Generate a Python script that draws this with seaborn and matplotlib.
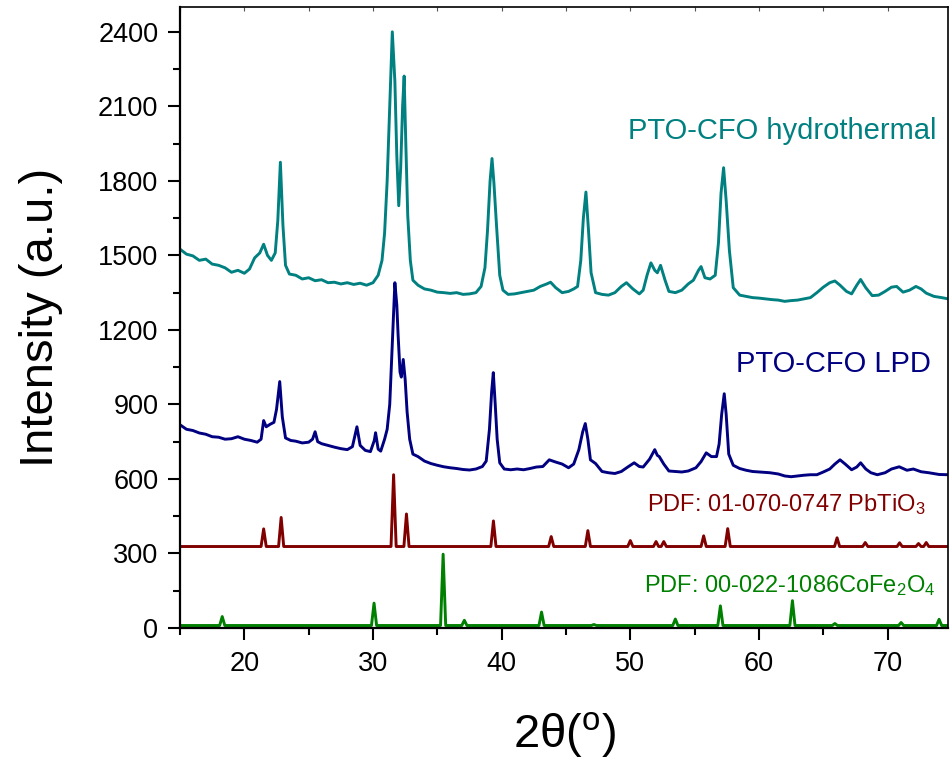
import pandas as pd
import matplotlib
matplotlib.use('Agg')
import matplotlib.pyplot as plt
from matplotlib.ticker import MultipleLocator
import seaborn as sns

hydro_2theta = [15.0, 15.5, 16.0, 16.5, 17.0, 17.5, 18.0, 18.5, 19.0, 19.5, 20.0, 20.4, 20.8, 21.2, 21.5,
                21.8, 22.1, 22.4, 22.6, 22.8, 23.0, 23.2, 23.5, 24.0, 24.5, 25.0, 25.5, 26.0, 26.5, 27.0,
                27.5, 28.0, 28.5, 29.0, 29.5, 30.0, 30.4, 30.7, 30.9, 31.1, 31.3, 31.5, 31.7, 31.85, 32.0,
                32.15, 32.3, 32.42, 32.55, 32.7, 32.9, 33.1, 33.5, 34.0, 34.5, 35.0, 35.5, 36.0, 36.5, 37.0,
                37.5, 38.0, 38.4, 38.7, 38.9, 39.1, 39.25, 39.4, 39.6, 39.85, 40.1, 40.5, 41.0, 41.5, 42.0,
                42.5, 43.0, 43.5, 43.8, 44.2, 44.7, 45.2, 45.6, 45.9, 46.15, 46.35, 46.55, 46.75, 46.95, 47.3,
                47.8, 48.3, 48.8, 49.3, 49.7, 50.2, 50.7, 51.0, 51.3, 51.6, 51.9, 52.1, 52.35, 52.7, 53.0,
                53.5, 54.0, 54.5, 54.9, 55.3, 55.5, 55.8, 56.2, 56.6, 56.85, 57.05, 57.25, 57.45, 57.7, 58.0,
                58.5, 59.0, 59.5, 60.0, 60.5, 61.0, 61.5, 62.0, 62.5, 63.0, 63.5, 64.0, 64.5, 65.0, 65.5,
                65.9, 66.3, 66.8, 67.2, 67.6, 67.9, 68.3, 68.8, 69.3, 69.8, 70.3, 70.7, 71.2, 71.7, 72.2,
                72.6, 73.0, 73.6, 74.2, 74.7]
hydro_counts = [1525, 1505, 1498, 1480, 1485, 1465, 1460, 1450, 1432, 1440, 1428, 1445, 1490, 1510, 1545,
                1500, 1480, 1510, 1640, 1875, 1620, 1460, 1425, 1420, 1405, 1410, 1398, 1402, 1390, 1392,
                1385, 1390, 1383, 1388, 1380, 1390, 1420, 1480, 1590, 1800, 2100, 2400, 2200, 1900, 1700,
                1850, 2100, 2222, 1950, 1660, 1480, 1400, 1380, 1365, 1360, 1352, 1350, 1347, 1350, 1343,
                1345, 1350, 1375, 1450, 1600, 1800, 1890, 1790, 1620, 1420, 1360, 1343, 1345, 1350, 1355,
                1360, 1375, 1385, 1392, 1370, 1350, 1355, 1365, 1375, 1480, 1650, 1755, 1600, 1430, 1350,
                1343, 1340, 1350, 1375, 1390, 1365, 1345, 1360, 1420, 1470, 1440, 1430, 1460, 1400, 1355,
                1350, 1360, 1385, 1400, 1440, 1455, 1410, 1405, 1420, 1550, 1750, 1853, 1720, 1520, 1370,
                1340, 1335, 1330, 1328, 1325, 1322, 1320, 1315, 1318, 1320, 1325, 1330, 1350, 1372, 1390,
                1397, 1380, 1355, 1345, 1380, 1403, 1370, 1338, 1340, 1355, 1372, 1375, 1352, 1360, 1375,
                1365, 1348, 1335, 1330, 1325]

lpd_2theta = [15.0, 15.5, 16.0, 16.5, 17.0, 17.5, 18.0, 18.5, 19.0, 19.5, 20.0, 20.5, 21.0, 21.3, 21.5,
              21.7, 22.0, 22.3, 22.5, 22.75, 22.95, 23.2, 23.6, 24.0, 24.5, 25.0, 25.3, 25.5, 25.7, 26.0,
              26.5, 27.0, 27.5, 28.0, 28.4, 28.75, 29.0, 29.4, 29.8, 30.1, 30.2, 30.4, 30.6, 30.9, 31.1,
              31.3, 31.5, 31.7, 31.85, 31.95, 32.1, 32.2, 32.35, 32.5, 32.65, 32.85, 33.1, 33.5, 34.0, 34.5,
              35.0, 35.5, 36.0, 36.5, 37.0, 37.5, 38.0, 38.5, 38.8, 39.05, 39.22, 39.35, 39.5, 39.65, 39.85,
              40.2, 40.7, 41.2, 41.7, 42.2, 42.7, 43.2, 43.7, 44.2, 44.7, 45.2, 45.6, 46.0, 46.3, 46.5,
              46.7, 46.9, 47.3, 47.8, 48.3, 48.8, 49.3, 49.8, 50.3, 50.7, 51.0, 51.5, 51.9, 52.1, 52.25,
              52.6, 53.0, 53.5, 54.0, 54.5, 55.1, 55.5, 55.9, 56.3, 56.7, 56.9, 57.1, 57.3, 57.45, 57.65,
              58.0, 58.5, 59.0, 59.5, 60.0, 60.85, 61.5, 62.0, 62.5, 63.0, 63.5, 64.0, 64.5, 65.0, 65.5,
              65.9, 66.3, 66.7, 67.2, 67.6, 67.9, 68.3, 68.7, 69.2, 69.8, 70.3, 70.9, 71.5, 72.0, 72.6,
              73.2, 74.0, 74.7]
lpd_counts = [818, 800, 795, 785, 780, 770, 768, 760, 762, 770, 760, 755, 748, 760, 835,
              810, 820, 828, 880, 992, 850, 765, 755, 752, 745, 748, 760, 790, 750, 742,
              735, 728, 722, 718, 730, 810, 735, 715, 710, 755, 786, 720, 712, 760, 800,
              900, 1150, 1390, 1300, 1180, 1030, 1010, 1081, 1000, 870, 760, 700, 690, 672, 662,
              655, 649, 645, 642, 638, 636, 640, 650, 672, 800, 950, 1028, 900, 760, 665,
              640, 637, 640, 637, 642, 648, 650, 677, 668, 660, 645, 660, 718, 790, 823,
              760, 677, 662, 630, 625, 622, 630, 648, 665, 650, 648, 680, 718, 695, 690,
              660, 632, 630, 628, 632, 645, 670, 705, 690, 690, 740, 860, 943, 860, 700,
              655, 642, 635, 630, 628, 625, 620, 612, 609, 612, 615, 617, 617, 628, 640,
              660, 677, 660, 637, 648, 665, 640, 625, 617, 625, 640, 649, 635, 640, 629,
              625, 618, 617]

# reference cards: baseline level, peak positions and peak tops
pto_base = 328
pto_peaks = [21.5, 22.86, 31.6, 32.6, 39.36, 43.85, 46.7, 50.0, 52.0, 52.6, 55.7, 57.57,
             66.07, 68.26, 70.93, 72.4, 73.0]
pto_tops = [399, 445, 617, 459, 431, 368, 392, 352, 348, 348, 371, 400,
            363, 344, 343, 340, 344]

cfo_base = 10
cfo_peaks = [18.28, 30.08, 35.45, 37.1, 43.1, 47.17, 53.5, 57.0, 62.6, 65.9, 71.05, 74.0]
cfo_tops = [46, 100, 297, 31, 64, 14, 36, 89, 110, 18, 22, 35]

c_hydro = '#008080'
c_lpd = '#000080'
c_pto = '#800000'
c_cfo = '#008000'


def card_frame(base, peaks, tops, w=0.2):
    xs, ys = [15.0], [base]
    for p, t in zip(peaks, tops):
        xs += [p - w, p, p + w]
        ys += [base, t, base]
    xs.append(74.7)
    ys.append(base)
    return pd.DataFrame({'two_theta': xs, 'counts': ys})


hydro_df = pd.DataFrame({'two_theta': hydro_2theta, 'counts': hydro_counts})
lpd_df = pd.DataFrame({'two_theta': lpd_2theta, 'counts': lpd_counts})
pto_df = card_frame(pto_base, pto_peaks, pto_tops)
cfo_df = card_frame(cfo_base, cfo_peaks, cfo_tops)

sns.set_theme(style='ticks')
plt.rcParams['font.family'] = ['Liberation Sans', 'DejaVu Sans']
plt.rcParams['mathtext.fontset'] = 'custom'
plt.rcParams['mathtext.rm'] = 'Liberation Sans'
plt.rcParams['mathtext.it'] = 'Liberation Sans:italic'
for key in ['text.color', 'axes.labelcolor', 'xtick.color', 'ytick.color', 'axes.edgecolor']:
    plt.rcParams[key] = 'black'

fig = plt.figure(figsize=(9.5, 7.6), dpi=100)
ax = fig.add_axes([0.1895, 0.1737, 0.8085, 0.8171])

for df, col in [(cfo_df, c_cfo), (pto_df, c_pto), (lpd_df, c_lpd), (hydro_df, c_hydro)]:
    sns.lineplot(x='two_theta', y='counts', data=df, ax=ax, color=col, lw=2.1,
                 sort=False, estimator=None)

ax.set_xlim(15, 74.7)
ax.set_ylim(0, 2500)
ax.xaxis.set_major_locator(MultipleLocator(10))
ax.xaxis.set_minor_locator(MultipleLocator(5))
ax.yaxis.set_major_locator(MultipleLocator(300))
ax.yaxis.set_minor_locator(MultipleLocator(150))
ax.tick_params(which='major', length=8.5, width=1.5, labelsize=19.5)
ax.tick_params(axis='y', which='major', pad=7)
ax.tick_params(axis='x', which='major', pad=8)
ax.tick_params(which='minor', length=5, width=1.5)

for side in ['left', 'bottom']:
    ax.spines[side].set_linewidth(1.6)
for side in ['top', 'right']:
    ax.spines[side].set_linewidth(1.2)
    ax.spines[side].set_visible(True)

top = ax.secondary_xaxis('top')
top.xaxis.set_major_locator(MultipleLocator(5))
top.tick_params(direction='in', length=3, width=0.8, labelsize=0, colors='#555555')
top.set_xticklabels([])
top.spines['top'].set_visible(False)

ax.text(73.8, 1968, 'PTO-CFO hydrothermal', color=c_hydro, fontsize=21, ha='right', va='baseline')
ax.text(73.4, 1030, 'PTO-CFO LPD', color=c_lpd, fontsize=21, ha='right', va='baseline')
ax.text(51.3, 469, r'PDF: 01-070-0747 PbTiO$_\mathregular{3}$', color=c_pto, fontsize=17,
        ha='left', va='baseline')
ax.text(51.1, 146, r'PDF: 00-022-1086CoFe$_\mathregular{2}$O$_\mathregular{4}$', color=c_cfo,
        fontsize=17, ha='left', va='baseline')

ax.set_xlabel(r'2θ($^\mathregular{o}$)', fontsize=34)
ax.set_ylabel('Intensity (a.u.)', fontsize=34)
ax.xaxis.set_label_coords(0.5, -0.132)
ax.yaxis.set_label_coords(-0.152, 0.5)

plt.savefig('out.png', dpi=100)
